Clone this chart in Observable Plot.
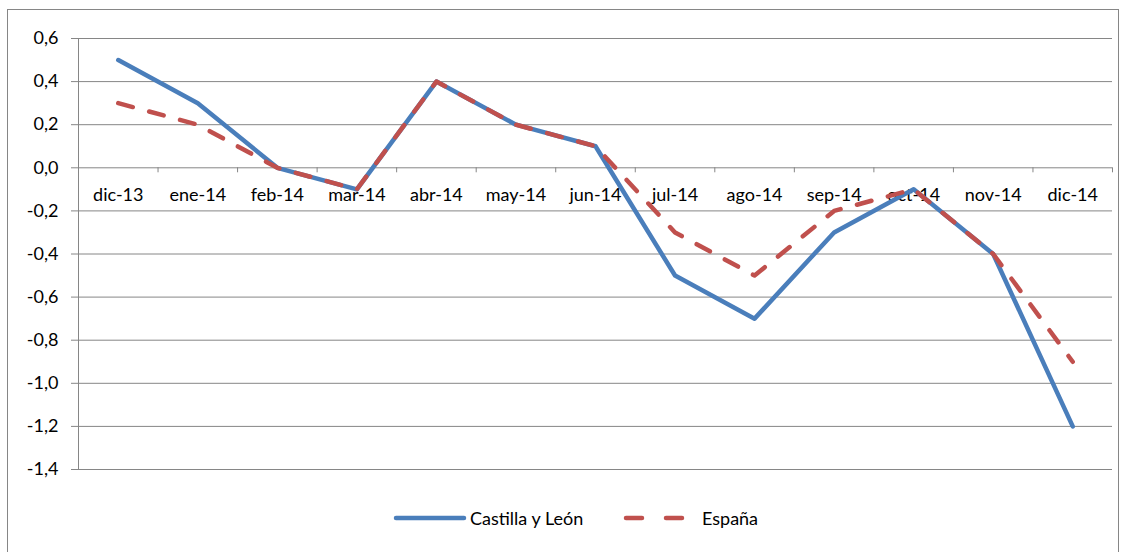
<!DOCTYPE html>
<html>
<head>
<meta charset="utf-8">
<script src="https://cdn.jsdelivr.net/npm/d3@7"></script>
<script src="https://cdn.jsdelivr.net/npm/@observablehq/plot@0.6"></script>
<style>
  html, body { margin: 0; padding: 0; background: #fff; }
  body { width: 1129px; height: 552px; overflow: hidden; position: relative; font-family: Lato, "Liberation Sans", Arial, sans-serif; }
  #frame { position: absolute; left: 7px; top: 9px; width: 1112px; height: 600px; border: 1px solid #868686; box-sizing: border-box; }
  #chart { position: absolute; left: 0; top: 0; }
  #legend { position: absolute; left: 0; top: 506px; width: 1129px; height: 24px; font-size: 18px; color: #000; }
  #legend .item { position: absolute; top: 0; display: flex; align-items: center; height: 24px; }
</style>
</head>
<body>
<div id="frame"></div>
<div id="chart"></div>
<div id="legend"></div>
<script>
const months = ["dic-13","ene-14","feb-14","mar-14","abr-14","may-14","jun-14","jul-14","ago-14","sep-14","oct-14","nov-14","dic-14"];
const castilla = [0.5, 0.3, 0.0, -0.1, 0.4, 0.2, 0.1, -0.5, -0.7, -0.3, -0.1, -0.4, -1.2];
const espana   = [0.3, 0.2, 0.0, -0.1, 0.4, 0.2, 0.1, -0.3, -0.5, -0.2, -0.1, -0.4, -0.9];
const yTicks = [0.6, 0.4, 0.2, 0.0, -0.2, -0.4, -0.6, -0.8, -1.0, -1.2, -1.4];
const seriesNames = ["Castilla y León", "España"];
const seriesColors = ["#4A7EBB", "#C0504D"];

const idx = months.map((m, i) => i);
const boundaries = d3.range(months.length + 1).map(i => i - 0.5);
const fmt = v => v.toFixed(1).replace(".", ",");

const W = 1129, H = 480;
const chart = Plot.plot({
  width: W,
  height: H,
  marginTop: 38,
  marginBottom: H - 469,
  marginLeft: 78,
  marginRight: W - 1112,
  style: { fontFamily: "Lato, Liberation Sans, Arial, sans-serif", fontSize: "18px", background: "transparent", overflow: "visible" },
  x: { type: "linear", domain: [-0.5, months.length - 0.5], axis: null },
  y: { domain: [-1.4, 0.6], axis: null },
  marks: [
    Plot.ruleY(yTicks, { x1: -0.5, x2: months.length - 0.5, insetLeft: -7, stroke: "#868686", strokeWidth: 1, strokeOpacity: 1 }),
    Plot.ruleX([-0.5], { y1: -1.4, y2: 0.6, stroke: "#868686", strokeWidth: 1 }),
    Plot.text(yTicks, { x: -0.5, y: d => d, text: d => fmt(d), textAnchor: "end", dx: -20, fill: "#000", fontSize: 18 }),
    Plot.ruleX(boundaries, { y1: 0, y2: 0, insetBottom: -5, stroke: "#868686", strokeWidth: 1 }),
    Plot.text(idx, { x: d => d, y: 0, text: d => months[d], dy: 27, fill: "#000", fontSize: 18 }),
    Plot.line(idx, { x: d => d, y: d => castilla[d], stroke: seriesColors[0], strokeWidth: 4.5, strokeLinejoin: "round", strokeLinecap: "round" }),
    Plot.line(idx, { x: d => d, y: d => espana[d], stroke: seriesColors[1], strokeWidth: 4.5, strokeDasharray: "15,17", strokeLinecap: "round", strokeLinejoin: "round" })
  ]
});
document.getElementById("chart").appendChild(chart);

// Legend
const legend = document.getElementById("legend");
const items = [
  { left: 392, dash: null },
  { left: 622, dash: "16,24" }
];
items.forEach((it, i) => {
  const div = document.createElement("div");
  div.className = "item";
  div.style.left = it.left + "px";
  const sw = d3.create("svg").attr("width", 76).attr("height", 24);
  sw.append("line").attr("x1", 4).attr("x2", it.dash ? 67 : 72).attr("y1", 12).attr("y2", 12)
    .attr("stroke", seriesColors[i]).attr("stroke-width", 4.5).attr("stroke-linecap", "round")
    .attr("stroke-dasharray", it.dash);
  div.appendChild(sw.node());
  const span = document.createElement("span");
  span.textContent = seriesNames[i];
  span.style.marginLeft = i === 0 ? "2px" : "4px";
  div.appendChild(span);
  legend.appendChild(div);
});
</script>
</body>
</html>
